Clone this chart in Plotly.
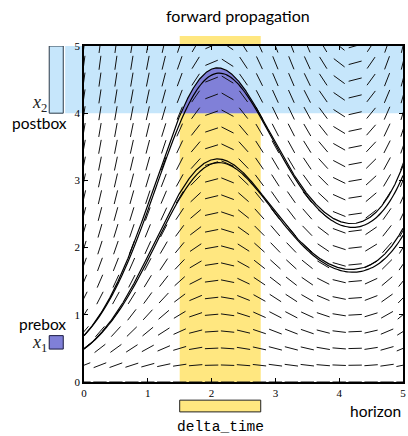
import numpy as np
import plotly.graph_objects as go

# ODE  dx/dt = x * (cos t + drift)
drift = 0.5

t_range = [0.0, 5.0]
x_range = [0.0, 5.0]
tick_vals = [0, 1, 2, 3, 4, 5]

grid_step = 0.25      # spacing of the direction field
seg_len = 0.21        # length of each direction segment (data units)
euler_step = 0.05     # step of the explicit Euler approximation

prebox = [0.49, 0.69]       # initial set x1
postbox = [4.0, 5.0]        # target set x2
delta_time = [1.5, 2.77]    # time window where the reach set meets x2

BLUE = "#c6e6fb"
YELLOW = "#ffe780"
PURPLE = "#8080d8"
SANS = "Lato, 'Noto Sans', sans-serif"
SERIF = "'Liberation Serif', 'DejaVu Serif', serif"
MONO = "'Liberation Mono', 'DejaVu Sans Mono', monospace"


def rhs(t, x):
    return x * (np.cos(t) + drift)


def exact(t, x0):
    return x0 * np.exp(np.sin(t) + drift * t)


def euler(x0, h, t_end):
    ts = [0.0]
    xs = [x0]
    while ts[-1] < t_end - 1e-9:
        t, x = ts[-1], xs[-1]
        xs.append(x + h * rhs(t, x))
        ts.append(t + h)
    return np.array(ts), np.array(xs)


fig = go.Figure()

# direction field
seg_t, seg_x = [], []
for tc in np.arange(t_range[0], t_range[1] + 1e-9, grid_step):
    for xc in np.arange(x_range[0], x_range[1] + 1e-9, grid_step):
        s = rhs(tc, xc)
        n = np.hypot(1.0, s)
        dt, dx = 0.5 * seg_len / n, 0.5 * seg_len * s / n
        seg_t += [tc - dt, tc + dt, None]
        seg_x += [xc - dx, xc + dx, None]

# part of the reach set inside the postbox
tt = np.linspace(t_range[0], t_range[1], 2001)
upper = exact(tt, prebox[1])
inside = upper >= postbox[0]
ti, xi = tt[inside], upper[inside]
fig.add_trace(go.Scatter(
    x=np.concatenate([ti, ti[::-1]]),
    y=np.concatenate([np.minimum(xi, postbox[1]), np.full(ti.size, postbox[0])]),
    fill="toself", fillcolor=PURPLE, mode="none", hoverinfo="skip"))

fig.add_trace(go.Scatter(x=seg_t, y=seg_x, mode="lines",
                         line=dict(color="#111111", width=1), hoverinfo="skip"))

# trajectories from the prebox bounds: exact and Euler
for x0 in prebox:
    fig.add_trace(go.Scatter(x=tt, y=exact(tt, x0), mode="lines",
                             line=dict(color="black", width=1.2)))
    te, xe = euler(x0, euler_step, t_range[1])
    fig.add_trace(go.Scatter(x=te, y=xe, mode="lines", line_shape="spline",
                             line=dict(color="black", width=1.2)))

shapes = [
    # delta_time band, reaching above the frame
    dict(type="rect", xref="x", yref="paper", x0=delta_time[0], x1=delta_time[1],
         y0=0, y1=1.03, fillcolor=YELLOW, line_width=0, layer="below"),
    # postbox band, reaching left of the frame
    dict(type="rect", xref="paper", yref="y", x0=-0.059, x1=1, y0=postbox[0],
         y1=postbox[1], fillcolor=BLUE, line_width=0, layer="below"),
    # x2 legend box
    dict(type="rect", xref="paper", yref="y", x0=-0.109, x1=-0.065, y0=postbox[0],
         y1=postbox[1], fillcolor=BLUE, line=dict(color="#2b3a48", width=1)),
    # x1 legend box
    dict(type="rect", xref="paper", yref="y", x0=-0.109, x1=-0.065, y0=prebox[0],
         y1=prebox[1], fillcolor=PURPLE, line=dict(color="#1a1a40", width=1)),
    # delta_time box under the axis
    dict(type="rect", xref="x", yref="paper", x0=delta_time[0], x1=delta_time[1],
         y0=-0.089, y1=-0.054, fillcolor=YELLOW, line=dict(color="#222222", width=1)),
]

annotations = [
    dict(text="<i>x</i><sub>2</sub>", xref="paper", yref="y", x=-0.11, y=4.15,
         xanchor="right", yanchor="middle", showarrow=False,
         font=dict(family=SERIF, size=18, color="#222222")),
    dict(text="postbox", xref="paper", yref="y", x=-0.14, y=3.86,
         xanchor="center", yanchor="middle", showarrow=False,
         font=dict(family=SANS, size=15.5, color="black")),
    dict(text="prebox", xref="paper", yref="y", x=-0.131, y=0.86,
         xanchor="center", yanchor="middle", showarrow=False,
         font=dict(family=SANS, size=15.5, color="black")),
    dict(text="<i>x</i><sub>1</sub>", xref="paper", yref="y", x=-0.11, y=0.58,
         xanchor="right", yanchor="middle", showarrow=False,
         font=dict(family=SERIF, size=18, color="#222222")),
    dict(text="horizon", xref="paper", yref="paper", x=1.0, y=-0.086,
         xanchor="right", yanchor="middle", showarrow=False,
         font=dict(family=SANS, size=15.5, color="black")),
    dict(text="delta_time", xref="x", yref="paper", x=sum(delta_time) / 2, y=-0.134,
         xanchor="center", yanchor="middle", showarrow=False,
         font=dict(family=MONO, size=14.5, color="black")),
]

axis_common = dict(
    showgrid=False, zeroline=False, showline=True, linecolor="black", linewidth=1.8,
    mirror="ticks", ticks="inside", ticklen=4, tickwidth=1, tickcolor="black",
    tickvals=tick_vals, tickfont=dict(family=SERIF, size=11, color="black"),
)

fig.update_layout(
    width=408, height=436,
    margin=dict(l=84, r=3, t=46, b=54),
    paper_bgcolor="white", plot_bgcolor="white",
    showlegend=False,
    title=dict(text="forward propagation", x=0.583, xanchor="center",
               y=0.963, yanchor="middle", font=dict(family=SANS, size=16, color="black")),
    xaxis=dict(range=t_range, **axis_common),
    yaxis=dict(range=x_range, **axis_common),
    shapes=shapes, annotations=annotations,
)

fig.write_html("out.html")
